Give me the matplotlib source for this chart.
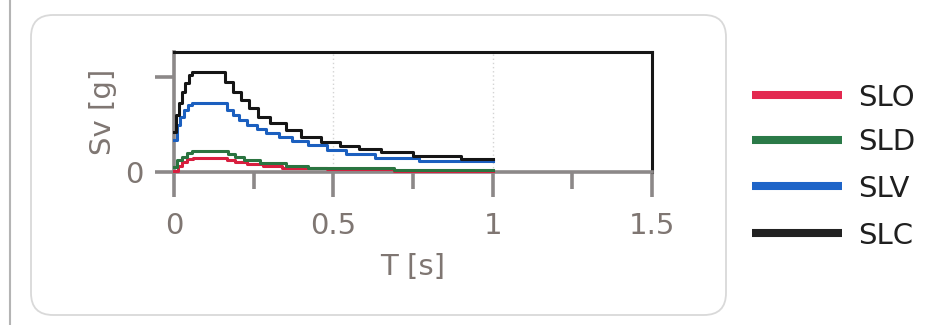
import matplotlib
matplotlib.use("Agg")
import matplotlib.pyplot as plt
from matplotlib.patches import FancyBboxPatch
from matplotlib.lines import Line2D
from matplotlib.transforms import IdentityTransform
from matplotlib.ticker import MultipleLocator

# step spectra (T [s] where each step starts, Sv [g])
T_SLO = [0, 0.012, 0.025, 0.04, 0.06, 0.165, 0.19, 0.23, 0.28, 0.34, 0.48, 0.69, 1.0]
SV_SLO = [0.005, 0.030, 0.053, 0.068, 0.074, 0.063, 0.053, 0.042, 0.032, 0.021, 0.016, 0.006, 0.006]

T_SLD = [0, 0.01, 0.025, 0.04, 0.056, 0.17, 0.19, 0.22, 0.27, 0.35, 0.42, 0.69, 1.0]
SV_SLD = [0.026, 0.063, 0.079, 0.100, 0.110, 0.095, 0.079, 0.063, 0.047, 0.032, 0.021, 0.008, 0.008]

T_SLV = [0, 0.008, 0.02, 0.032, 0.044, 0.056, 0.165, 0.185, 0.205, 0.228, 0.26, 0.29, 0.33,
         0.37, 0.42, 0.48, 0.54, 0.63, 0.77, 1.0]
SV_SLV = [0.168, 0.247, 0.289, 0.326, 0.353, 0.363, 0.326, 0.300, 0.274, 0.247, 0.226, 0.205, 0.184,
          0.163, 0.142, 0.116, 0.095, 0.074, 0.058, 0.058]

T_SLC = [0, 0.006, 0.016, 0.026, 0.036, 0.046, 0.056, 0.16, 0.185, 0.21, 0.235, 0.265, 0.30,
         0.35, 0.40, 0.46, 0.52, 0.58, 0.65, 0.75, 0.90, 1.0]
SV_SLC = [0.21, 0.30, 0.363, 0.421, 0.468, 0.51, 0.526, 0.474, 0.421, 0.379, 0.337, 0.289, 0.258,
          0.221, 0.184, 0.158, 0.137, 0.121, 0.105, 0.084, 0.068, 0.068]

labels = ["SLO", "SLD", "SLV", "SLC"]
line_colors = ["#d81f3f", "#2a7440", "#1b5fbf", "#151515"]
legend_colors = ["#e3284f", "#2b7a48", "#1e64c8", "#222222"]
series = [(T_SLO, SV_SLO), (T_SLD, SV_SLD), (T_SLV, SV_SLV), (T_SLC, SV_SLC)]

W, H = 948, 325
GRAY = "#8c8888"
TXT = "#7f7672"

fig = plt.figure(figsize=(W / 100, H / 100), dpi=100)
fig.patch.set_facecolor("white")

# scanned page edge on the left
fig.add_artist(Line2D([10 / W, 10 / W], [0, 1], transform=fig.transFigure, color="#b4b4b4", lw=1.5))

# rounded panel behind the axes
panel = FancyBboxPatch((31, H - 315), 695, 300, boxstyle="round,pad=0,rounding_size=22",
                       transform=IdentityTransform(), facecolor="white", edgecolor="#d9d9d9", lw=1.3,
                       zorder=-5)
fig.add_artist(panel)

ax = fig.add_axes([174 / W, 1 - 172 / H, (652 - 174) / W, (172 - 52) / H])
ax.set_facecolor("none")
ax.set_zorder(2)

for (t, sv), c in zip(series, line_colors):
    ax.plot(t, sv, drawstyle="steps-post", color=c, lw=2.2, clip_on=False, zorder=3)

ax.set_xlim(0, 1.5)
ax.set_ylim(0, 0.632)
ax.xaxis.set_major_locator(MultipleLocator(0.5))
ax.xaxis.set_minor_locator(MultipleLocator(0.25))
ax.set_xticks([0, 0.5, 1, 1.5])
ax.set_xticklabels(["0", "0.5", "1", "1.5"])
ax.set_yticks([0, 0.5])
ax.set_yticklabels(["0", ""])

for x in [0.5, 1.0]:
    ax.axvline(x, color="#d4d4d4", lw=1, ls=(0, (1, 2)), zorder=1)

for side in ["left", "bottom"]:
    ax.spines[side].set_color(GRAY)
    ax.spines[side].set_linewidth(2.6)
for side in ["top", "right"]:
    ax.spines[side].set_color("#161616")
    ax.spines[side].set_linewidth(2.2)

ax.tick_params(axis="x", which="major", length=18, width=2.6, color=GRAY, pad=11,
               labelsize=21, labelcolor=TXT)
ax.tick_params(axis="x", which="minor", length=12, width=2.6, color=GRAY)
ax.tick_params(axis="y", which="major", length=14, width=2.6, color=GRAY, pad=8,
               labelsize=21, labelcolor=TXT)

ax.set_xlabel("T [s]", fontsize=21, color=TXT)
ax.set_ylabel("Sv [g]", fontsize=21, color=TXT)
ax.xaxis.set_label_coords(0.5, -(253 - 172) / 120)
ax.yaxis.set_label_coords(-(174 - 117) / 478, 0.5)

# legend on the right
leg_y = [95, 140, 186, 233]
for y, lab, c in zip(leg_y, labels, legend_colors):
    fig.add_artist(Line2D([752 / W, 842 / W], [1 - y / H] * 2, transform=fig.transFigure,
                          color=c, lw=5.8, solid_capstyle="butt"))
    fig.text(858 / W, 1 - (y + 10.5) / H, lab, fontsize=21, color="#1f1f1f", va="baseline", ha="left")

fig.savefig("out.png", dpi=100)
